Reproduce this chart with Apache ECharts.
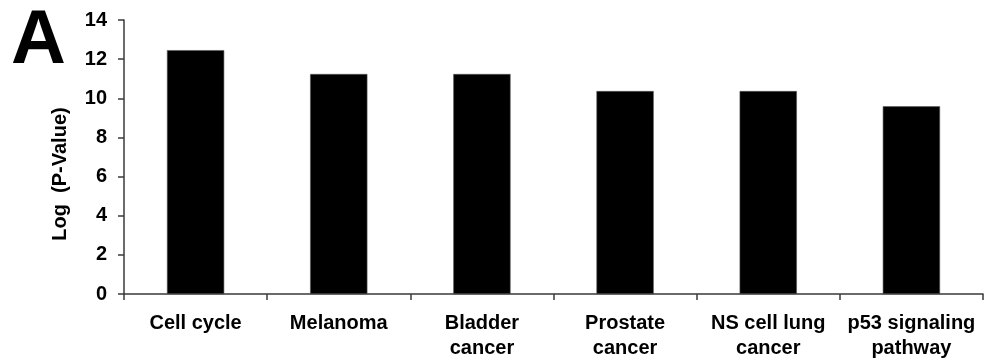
<!DOCTYPE html>
<html>
<head>
<meta charset="utf-8">
<script src="https://cdn.jsdelivr.net/npm/echarts@6/dist/echarts.min.js"></script>
<style>
  html, body { margin: 0; padding: 0; background: #fff; }
  #chart { width: 990px; height: 362px; }
</style>
</head>
<body>
<div id="chart"></div>
<script>
// KEGG pathway enrichment, -log(P) per pathway
const categories = ['Cell cycle', 'Melanoma', 'Bladder\ncancer', 'Prostate\ncancer', 'NS cell lung\ncancer', 'p53 signaling\npathway'];
const logPValues = [12.46, 11.24, 11.24, 10.37, 10.37, 9.59];
const yTicks = [0, 2, 4, 6, 8, 10, 12, 14];

const FONT = '"Liberation Sans", Arial, sans-serif';
const AXIS_COLOR = '#3a3a3a';

const chart = echarts.init(document.getElementById('chart'), null, { renderer: 'canvas' });

chart.setOption({
  animation: false,
  backgroundColor: '#ffffff',
  grid: { left: 124, right: 7, top: 20, bottom: 68, containLabel: false },
  xAxis: {
    type: 'category',
    data: categories,
    boundaryGap: true,
    axisLine: { show: true, lineStyle: { color: AXIS_COLOR, width: 1.5 } },
    axisTick: { show: true, length: 6, inside: false, lineStyle: { color: AXIS_COLOR, width: 1.5 } },
    axisLabel: {
      interval: 0,
      margin: 17,
      color: '#000',
      fontFamily: FONT,
      fontWeight: 'bold',
      fontSize: 20,
      lineHeight: 25
    },
    splitLine: { show: false }
  },
  yAxis: {
    type: 'value',
    min: yTicks[0],
    max: yTicks[yTicks.length - 1],
    interval: 2,
    axisLine: { show: true, lineStyle: { color: AXIS_COLOR, width: 1.5 } },
    axisTick: { show: true, length: 6, inside: false, lineStyle: { color: AXIS_COLOR, width: 1.5 } },
    axisLabel: {
      margin: 17,
      color: '#000',
      fontFamily: FONT,
      fontWeight: 'bold',
      fontSize: 20
    },
    splitLine: { show: false }
  },
  graphic: [
    {
      type: 'text',
      left: 11,
      top: 4,
      style: {
        text: 'A',
        fill: '#000',
        font: 'bold 76px "Liberation Sans", Arial, sans-serif'
      }
    },
    {
      type: 'text',
      x: 60,
      y: 174,
      rotation: Math.PI / 2,
      style: {
        text: 'Log  (P-Value)',
        fill: '#000',
        font: 'bold 20px "Liberation Sans", Arial, sans-serif',
        textAlign: 'center',
        textVerticalAlign: 'middle'
      }
    }
  ],
  series: [
    {
      type: 'bar',
      data: logPValues,
      barWidth: '40%',
      itemStyle: { color: '#000', borderColor: '#555', borderWidth: 0.6 }
    }
  ]
});
</script>
</body>
</html>
